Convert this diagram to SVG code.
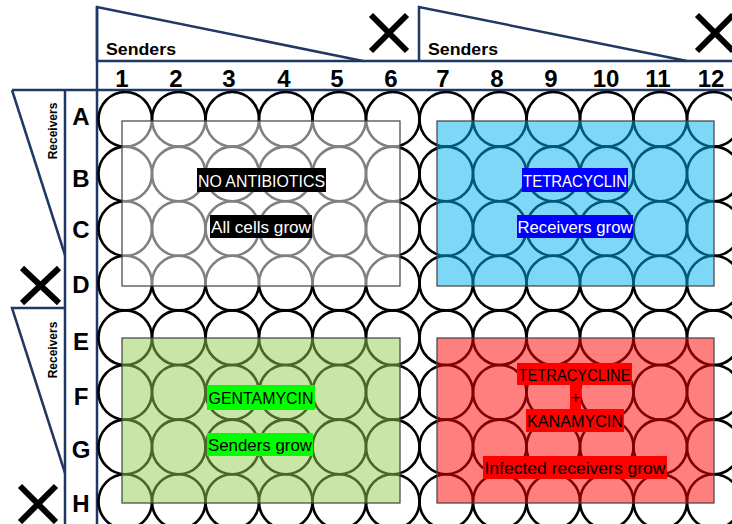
<svg xmlns="http://www.w3.org/2000/svg" xmlns:xlink="http://www.w3.org/1999/xlink" width="732" height="524" viewBox="0 0 732 524">
<style>
.frame{fill:none;stroke:#1F3864;stroke-width:2.5}
.well{fill:none;stroke:#000;stroke-width:2.6}
.cross{stroke:#000;stroke-width:6;stroke-linecap:butt}
.num{font-family:"Liberation Sans",Arial,sans-serif;font-weight:bold;font-size:24px;text-anchor:middle;fill:#000}
.let{font-family:"Liberation Sans",Arial,sans-serif;font-weight:bold;font-size:24px;text-anchor:middle;fill:#000}
.hdr{font-family:"Liberation Sans",Arial,sans-serif;font-weight:bold;font-size:17px;fill:#000}
.rcv{font-family:"Liberation Sans",Arial,sans-serif;font-weight:bold;font-size:12px;text-anchor:middle;fill:#000}
.lbl{font-family:"Liberation Sans",Arial,sans-serif;font-size:17px;text-anchor:middle}
.zone{stroke:#404040;stroke-width:1.2}
</style>
<defs>
<ellipse id="w" cx="0" cy="0" rx="26.75" ry="27.3" class="well"/>
<g id="row">
<use xlink:href="#w" x="125.25"/><use xlink:href="#w" x="178.75"/><use xlink:href="#w" x="232.25"/><use xlink:href="#w" x="285.75"/><use xlink:href="#w" x="339.25"/><use xlink:href="#w" x="392.75"/><use xlink:href="#w" x="446.25"/><use xlink:href="#w" x="499.75"/><use xlink:href="#w" x="553.25"/><use xlink:href="#w" x="606.75"/><use xlink:href="#w" x="660.25"/><use xlink:href="#w" x="713.75"/>
</g>
</defs>
<rect width="732" height="524" fill="#fff"/>
<g id="header">
<line class="frame" x1="97" y1="61" x2="732" y2="61"/>
<line class="frame" x1="12" y1="90" x2="732" y2="90"/>
<line class="frame" x1="97" y1="7" x2="97" y2="524"/>
<line class="frame" x1="65" y1="90" x2="65" y2="524"/>
<polyline class="frame" points="97,61 97,7 363,61"/>
<polyline class="frame" points="419,61 419,7 687,61"/>
<polyline class="frame" points="12,90 65,255"/>
<polyline class="frame" points="65,308 12,308 65,473"/>
<text class="hdr" x="106" y="55" textLength="70" lengthAdjust="spacingAndGlyphs">Senders</text>
<text class="hdr" x="428" y="55" textLength="70" lengthAdjust="spacingAndGlyphs">Senders</text>
<text class="rcv" transform="translate(57,131) rotate(-90)">Receivers</text>
<text class="rcv" transform="translate(57,350) rotate(-90)">Receivers</text>
<line class="cross" x1="371" y1="15" x2="407" y2="51"/><line class="cross" x1="407" y1="15" x2="371" y2="51"/>
<line class="cross" x1="697" y1="15" x2="733" y2="51"/><line class="cross" x1="733" y1="15" x2="697" y2="51"/>
<line class="cross" x1="22" y1="268" x2="59" y2="303"/><line class="cross" x1="59" y1="268" x2="22" y2="303"/>
<line class="cross" x1="20" y1="486" x2="56" y2="522"/><line class="cross" x1="56" y1="486" x2="20" y2="522"/>
<text class="num" x="122" y="87">1</text><text class="num" x="176" y="87">2</text><text class="num" x="229" y="87">3</text><text class="num" x="284" y="87">4</text><text class="num" x="337" y="87">5</text><text class="num" x="391" y="87">6</text><text class="num" x="443" y="87">7</text><text class="num" x="497" y="87">8</text><text class="num" x="551" y="87">9</text><text class="num" x="606" y="87">10</text><text class="num" x="658" y="87">11</text><text class="num" x="711" y="87">12</text>
<text class="let" x="81" y="125">A</text><text class="let" x="81" y="187">B</text><text class="let" x="81" y="238">C</text><text class="let" x="81" y="293">D</text><text class="let" x="81" y="350">E</text><text class="let" x="81" y="405">F</text><text class="let" x="81" y="458">G</text><text class="let" x="81" y="512">H</text>
</g>
<g id="wells">
<use xlink:href="#row" y="119.3"/><use xlink:href="#row" y="173.9"/><use xlink:href="#row" y="228.5"/><use xlink:href="#row" y="283.1"/><use xlink:href="#row" y="337.7"/><use xlink:href="#row" y="392.3"/><use xlink:href="#row" y="446.9"/><use xlink:href="#row" y="501.5"/>
</g>
<g id="no-antibiotics">
<rect class="zone" x="122" y="121" width="278" height="165" fill="#fff" fill-opacity="0.5"/>
<rect x="197" y="168" width="129" height="24" fill="#000"/>
<text class="lbl" x="261.5" y="186.5" fill="#fff" textLength="127" lengthAdjust="spacingAndGlyphs">NO ANTIBIOTICS</text>
<rect x="210" y="215" width="102" height="23" fill="#000"/>
<text class="lbl" x="261" y="232.5" fill="#fff" textLength="100" lengthAdjust="spacingAndGlyphs">All cells grow</text>
</g>
<g id="tetracyclin">
<rect class="zone" x="437" y="121" width="277" height="165" fill="#00B0F0" fill-opacity="0.5"/>
<rect x="522" y="168" width="106" height="24" fill="#0000FF"/>
<text class="lbl" x="575" y="186.5" fill="#fff" textLength="104" lengthAdjust="spacingAndGlyphs">TETRACYCLIN</text>
<rect x="517" y="215" width="116" height="23" fill="#0000FF"/>
<text class="lbl" x="575" y="232.5" fill="#fff" textLength="115" lengthAdjust="spacingAndGlyphs">Receivers grow</text>
</g>
<g id="gentamycin">
<rect class="zone" x="122" y="338" width="278" height="165" fill="#92D050" fill-opacity="0.5"/>
<rect x="207" y="385" width="108" height="25" fill="#00FF00"/>
<text class="lbl" x="261" y="403.5" fill="#000" textLength="105" lengthAdjust="spacingAndGlyphs">GENTAMYCIN</text>
<rect x="207" y="433" width="106" height="23" fill="#00FF00"/>
<text class="lbl" x="260" y="450.5" fill="#000" textLength="104" lengthAdjust="spacingAndGlyphs">Senders grow</text>
</g>
<g id="tetracycline-kanamycin">
<rect class="zone" x="437" y="338" width="277" height="165" fill="#FF0000" fill-opacity="0.5"/>
<rect x="517" y="363" width="115" height="22" fill="#FF0000"/>
<text class="lbl" x="574.5" y="380.5" fill="#000" textLength="112" lengthAdjust="spacingAndGlyphs">TETRACYCLINE</text>
<rect x="570" y="385" width="11" height="24" fill="#FF0000"/>
<text class="lbl" x="575.5" y="403" fill="#000">+</text>
<rect x="526" y="409" width="98" height="23" fill="#FF0000"/>
<text class="lbl" x="575" y="426.5" fill="#000" textLength="96" lengthAdjust="spacingAndGlyphs">KANAMYCIN</text>
<rect x="483" y="456" width="184" height="23" fill="#FF0000"/>
<text class="lbl" x="575" y="473.5" fill="#000" textLength="181" lengthAdjust="spacingAndGlyphs">Infected receivers grow</text>
</g>
</svg>
